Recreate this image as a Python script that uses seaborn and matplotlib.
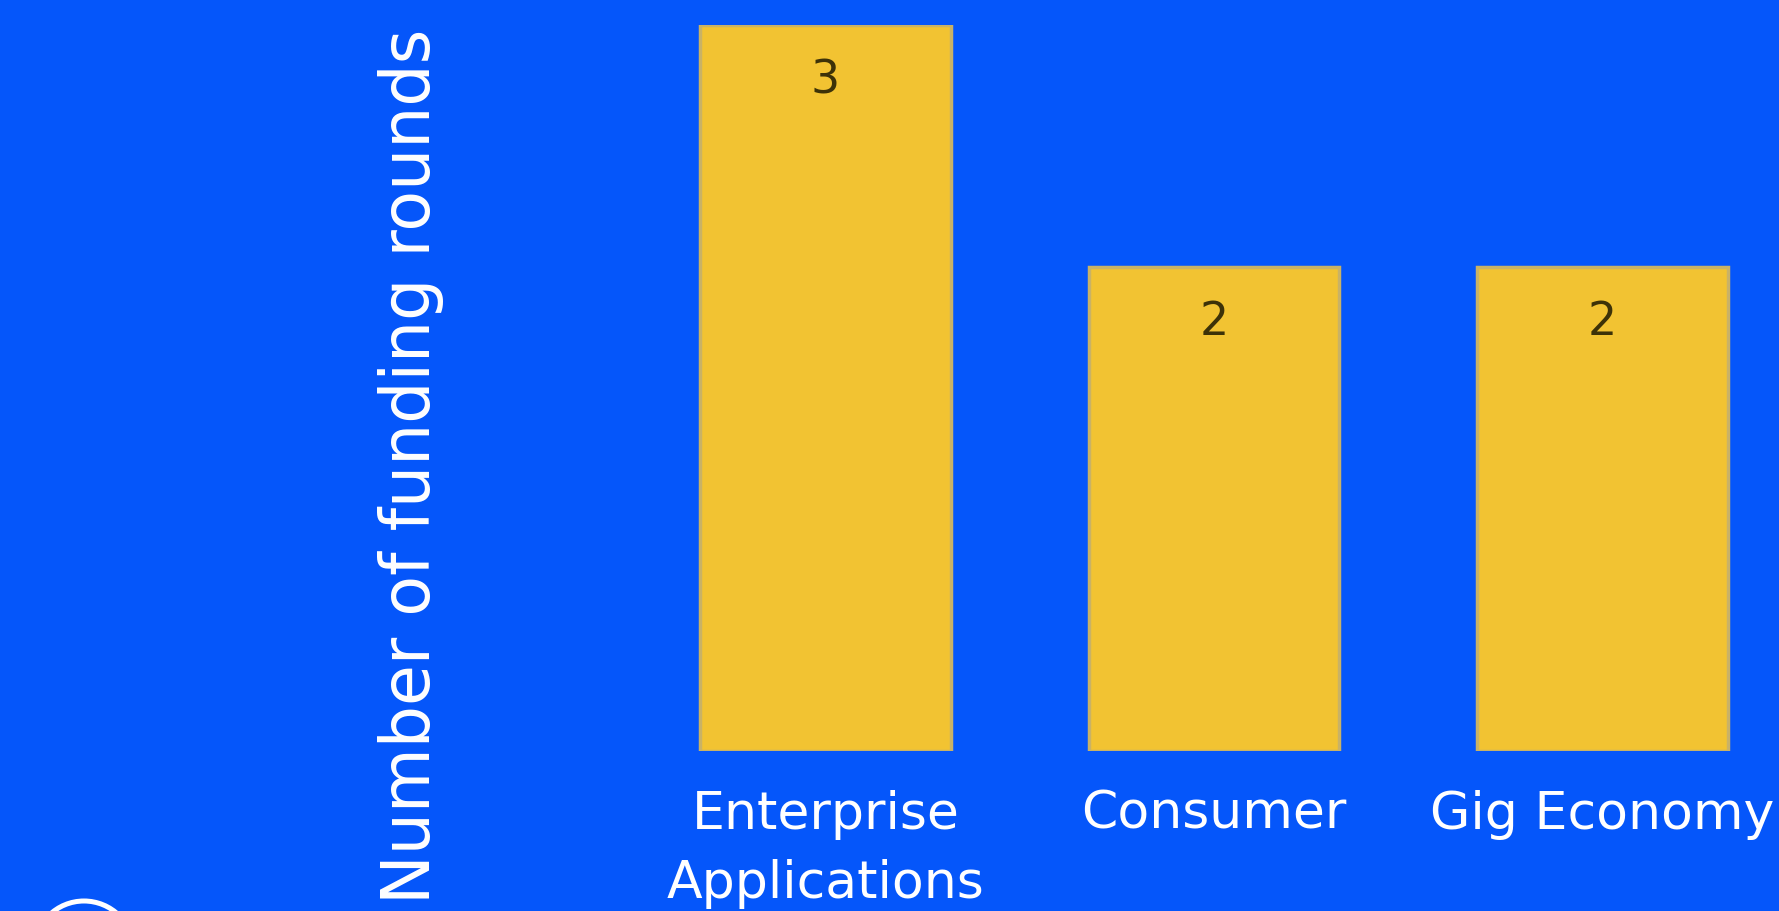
import matplotlib
matplotlib.use("Agg")
import matplotlib.pyplot as plt
from matplotlib.patches import Circle
import seaborn as sns

# data
categories = ["Enterprise\nApplications", "Consumer", "Gig Economy"]
rounds = [3, 2, 2]

blue = "#0556FA"
yellow = "#F2C332"

sns.set_style("white")
plt.rcParams["font.family"] = ["DejaVu Sans"]

fig = plt.figure(figsize=(17.79, 9.11), dpi=100, facecolor=blue)
ax = fig.add_axes([470 / 1779, 160 / 911, 1309 / 1779, 726 / 911])
ax.set_facecolor(blue)

sns.barplot(x=categories, y=rounds, color=yellow, saturation=1, width=0.645,
            edgecolor="#C9B266", linewidth=2.5, ax=ax)

# value labels inside the top of each bar
for i, v in enumerate(rounds):
    ax.annotate(str(v), xy=(i, v), xytext=(0, -40), textcoords="offset points",
                ha="center", va="center", fontsize=33, color="#3d3208")

ax.set_xlim(-0.915, 2.455)
ax.set_ylim(0, 3)
ax.set_yticks([])
ax.set_xlabel("")
ax.set_ylabel("Number of funding rounds", fontsize=48, color="white")
ax.yaxis.set_label_coords(-0.02, 0.392)

ax.tick_params(axis="x", length=0, pad=28, labelsize=37.5, colors="white")
for t in ax.get_xticklabels():
    t.set_linespacing(1.5)

for s in ax.spines.values():
    s.set_visible(False)

# partial white ring peeking in at the lower left corner
ring = Circle((0.84, -0.40), 0.50, transform=fig.dpi_scale_trans,
              fill=False, edgecolor="white", linewidth=3.6, clip_on=False)
fig.add_artist(ring)

fig.savefig("out.png", dpi=100, facecolor=blue)
